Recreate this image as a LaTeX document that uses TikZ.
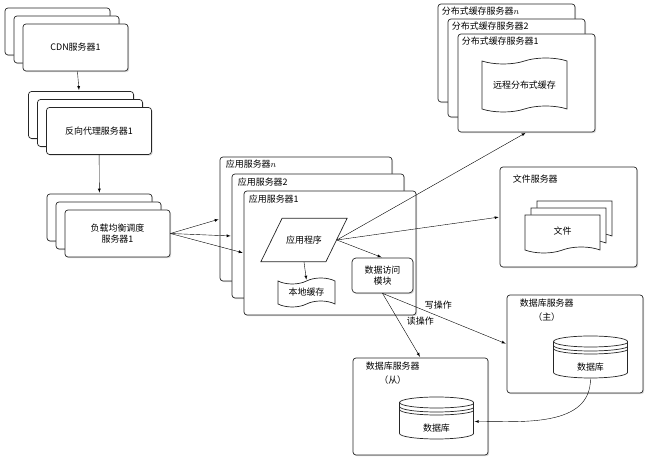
\documentclass[tikz,border=0pt]{standalone}
\usepackage{fontspec}
\setmainfont{Noto Sans CJK SC}
\usetikzlibrary{positioning, arrows, shapes.geometric, shapes.symbols, shadows}

\begin{document}
\begin{tikzpicture}[x=1bp, y=1bp, shorten >=1pt, node distance=8bp, on grid, auto, >=latex,
    font=\fontsize{9}{11}\selectfont,
    every label/.style={inner sep=0pt, align=center, font=\fontsize{9}{14}\selectfont},
    srv/.style={draw=black!85, fill=white, line width=0.7bp, rounded corners=3bp,
      minimum width=105bp, minimum height=47bp, align=center,
      drop shadow={shadow xshift=1.2bp, shadow yshift=-1.2bp, opacity=0.3}},
    host/.style={srv, minimum width=137bp, minimum height=98bp},
    appsrv/.style={srv, minimum width=172bp, minimum height=124bp},
    module/.style={srv, minimum width=61bp, minimum height=35bp, rounded corners=4bp},
    prog/.style={trapezium, trapezium left angle=64, trapezium right angle=116,
      draw=black!85, fill=white, line width=0.7bp, inner xsep=4bp, inner ysep=17.5bp},
    cache/.style={tape, draw=black!85, fill=white, line width=0.7bp, tape bend height=6bp},
    doc/.style={cache, tape bend top=none, minimum width=75bp, minimum height=38bp},
    dbcyl/.pic={
      \draw[draw=black!85, fill=white, line width=0.7bp] (-37,16) -- (-37,-15)
        arc[start angle=180, end angle=360, x radius=37bp, y radius=5.5bp] -- (37,16)
        arc[start angle=0, end angle=360, x radius=37bp, y radius=5.5bp];
      \draw[draw=black!85, line width=0.7bp] (-37,12) arc[start angle=180, end angle=360, x radius=37bp, y radius=5.5bp];
      \draw[draw=black!85, line width=0.7bp] (-37,9) arc[start angle=180, end angle=360, x radius=37bp, y radius=5.5bp];
      \node[inner sep=0pt, minimum width=74bp, minimum height=42bp] (-body) at (0,0) {};
      \node at (0,-10) {数据库};
    }]
  \useasboundingbox (0,0) rectangle (650,460);

  % front end
  \node[srv] (cdn_n) at (57.5,428.5) {};
  \node[srv] (cdn_2) [below right=8bp and 9bp of cdn_n] {};
  \node[srv] (cdn_1) [below right=8bp and 9bp of cdn_2] {CDN服务器1};

  \node[srv] (proxy_n) at (81,345) {};
  \node[srv] (proxy_2) [below right=8bp and 9bp of proxy_n] {};
  \node[srv] (proxy_1) [below right=8bp and 9bp of proxy_2] {反向代理服务器1};

  \node[srv] (lb_n) at (99.5,242.5) {};
  \node[srv] (lb_2) [below right=8bp and 9bp of lb_n] {};
  \node[srv] (lb_1) [below right=8bp and 9bp of lb_2] {负载均衡调度\\服务器1};

  % application servers
  \node[appsrv, label={[anchor=north west, xshift=6bp, yshift=-3.5bp]north west:应用服务器$n$}] (app_n) at (306,241) {};
  \node[appsrv, label={[anchor=north west, xshift=6bp, yshift=-4bp]north west:应用服务器2}] (app_2) [below right=17bp and 12bp of app_n] {};
  \node[appsrv, label={[anchor=north west, xshift=5bp, yshift=-4.5bp]north west:应用服务器1}] (app_1) [below right=17bp and 12bp of app_2] {};

  \node[prog] (prog) at (304,220) {应用程序};
  \node[cache, minimum width=57bp, minimum height=29bp] (lcache) at (306.5,167.5) {本地缓存};
  \node[module] (dacc) at (382.5,184.5) {数据访问\\模块};

  % distributed cache
  \node[host, label={[anchor=north west, xshift=4bp, yshift=-3bp]north west:分布式缓存服务器$n$}] (dc_n) at (506.5,407) {};
  \node[host, label={[anchor=north west, xshift=4bp, yshift=-3bp]north west:分布式缓存服务器2}] (dc_2) [below right=15bp and 10bp of dc_n] {};
  \node[host, label={[anchor=north west, xshift=4bp, yshift=-3.5bp]north west:分布式缓存服务器1}] (dc_1) [below right=15bp and 10bp of dc_2] {};
  \node[cache, minimum width=85bp, minimum height=54bp] (rcache) at (524.5,375) {远程分布式缓存};

  % file server
  \node[host, minimum height=100bp, label={[anchor=north west, xshift=13bp, yshift=-8.5bp]north west:文件服务器}] (file) at (568.5,243) {};
  \node[doc] (file_n) at (574.5,243) {};
  \node[doc] (file_2) [below left=7bp and 6bp of file_n] {};
  \node[doc] (file_1) [below left=7bp and 6bp of file_2] {文件};

  % databases
  \node[host, minimum width=136bp, label={[anchor=north west, xshift=13bp, yshift=-4.5bp]north west:数据库服务器\\（主）}] (db_m) at (575,116) {};
  \pic (dbm) at (590.5,102.5) {dbcyl};
  \node[host, minimum width=135bp, minimum height=97bp, label={[anchor=north west, xshift=13bp, yshift=-4.5bp]north west:数据库服务器\\（从）}] (db_s) at (420.5,53.5) {};
  \pic (dbs) at (436.5,41.5) {dbcyl};

  \path[->]
    (cdn_1) edge (proxy_n)
    (proxy_1) edge (lb_n)
    (lb_1.east) edge (app_n.west)
    (lb_1.east) edge (app_2.west)
    (lb_1.east) edge (app_1.west)
    (prog.south) edge (lcache.north)
    (prog.east) edge (dacc.north)
    (prog.east) edge (dc_1.south)
    (prog.east) edge (file.west)
    (dacc.south) edge node [pos=0.55] {读操作} (db_s.north)
    (dacc.south) edge node [pos=0.45, above=3bp] {写操作} (db_m.west)
    (dbm-body.south) edge [out=-90, in=0] ([yshift=-3bp]dbs-body.east)
    ;
\end{tikzpicture}
\end{document}
